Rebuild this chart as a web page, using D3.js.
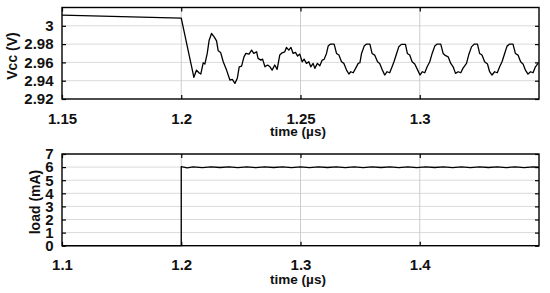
<!DOCTYPE html>
<html>
<head>
<meta charset="utf-8">
<script src="https://cdn.jsdelivr.net/npm/d3@7"></script>
<style>
  body { margin: 0; background: #fff; }
  text { font-family: "Liberation Sans", Arial, sans-serif; font-weight: bold; }
</style>
</head>
<body>
<div id="chart"></div>
<script>
// supply voltage trace (time in us, volts)
let vccTime = [
  1.15, 1.2, 1.2053, 1.2064, 1.2074, 1.2082, 1.2092, 1.2099, 1.2109, 1.2117, 1.2127, 1.2138,
  1.2148, 1.2155, 1.2165, 1.2176, 1.2190, 1.2204, 1.2214, 1.2225, 1.2235, 1.2243,
  1.2253, 1.2263, 1.2271, 1.2284, 1.2295, 1.2304, 1.2316, 1.2322, 1.2334, 1.2341, 1.2351, 1.2362, 1.2372,
  1.2381, 1.2392, 1.2402, 1.2413, 1.2423, 1.2434, 1.2441, 1.2451, 1.2460, 1.2469,
  1.2479, 1.2488, 1.2497, 1.2507, 1.2515, 1.2525, 1.2535, 1.2543, 1.2553, 1.2560,
  1.2571, 1.2581, 1.2591, 1.2599, 1.2609, 1.2616, 1.2626, 1.2641, 1.2651, 1.2661,
  1.2672, 1.2682, 1.2693, 1.2703, 1.2711, 1.2721, 1.2731, 1.2742,
  1.2749, 1.2756, 1.2767, 1.2777, 1.2791, 1.2800, 1.2811, 1.2823, 1.2832, 1.2842,
  1.2853, 1.2863, 1.2874, 1.2884, 1.2892, 1.2903, 1.2912, 1.2923, 1.2940, 1.2948,
  1.2958, 1.2968, 1.2979, 1.2990, 1.3001, 1.3011, 1.3021, 1.3031, 1.3042, 1.3052, 1.3063, 1.3073, 1.3088, 1.3098,
  1.3105, 1.3119, 1.3130, 1.3140, 1.3150, 1.3161, 1.3172, 1.3181, 1.3196, 1.3205,
  1.3217, 1.3228, 1.3242, 1.3251, 1.3261, 1.3272, 1.3284, 1.3293, 1.3303, 1.3314,
  1.3325, 1.3335, 1.3345, 1.3356, 1.3366, 1.3377, 1.3391, 1.3401, 1.3412, 1.3423,
  1.3433, 1.3443, 1.3454, 1.3465, 1.3475, 1.3485, 1.3496
];
let vccVolts = [
  3.0116, 3.0083, 2.9437, 2.9516, 2.9487, 2.9473, 2.9596, 2.9582, 2.9698, 2.9843, 2.9916, 2.9879,
  2.9836, 2.9727, 2.9709, 2.9607, 2.9516, 2.9407, 2.9415, 2.9371, 2.9426, 2.9552,
  2.9560, 2.9661, 2.9698, 2.9691, 2.9734, 2.9698, 2.9716, 2.9644, 2.9625, 2.9636, 2.9552, 2.9571, 2.9552,
  2.9516, 2.9571, 2.9524, 2.9680, 2.9705, 2.9716, 2.9764, 2.9734, 2.9764, 2.9698,
  2.9709, 2.9669, 2.9691, 2.9607, 2.9636, 2.9589, 2.9607, 2.9552, 2.9589, 2.9535,
  2.9589, 2.9563, 2.9625, 2.9633, 2.9698, 2.9778, 2.9800, 2.9800, 2.9698, 2.9680,
  2.9607, 2.9589, 2.9516, 2.9473, 2.9498, 2.9487, 2.9535, 2.9589,
  2.9596, 2.9698, 2.9778, 2.9800, 2.9800, 2.9698, 2.9680, 2.9607, 2.9589, 2.9524,
  2.9462, 2.9498, 2.9487, 2.9552, 2.9607, 2.9698, 2.9770, 2.9797, 2.9797, 2.9698,
  2.9680, 2.9607, 2.9582, 2.9524, 2.9462, 2.9498, 2.9487, 2.9552, 2.9607, 2.9698, 2.9778, 2.9800, 2.9800, 2.9698,
  2.9680, 2.9661, 2.9589, 2.9552, 2.9480, 2.9498, 2.9487, 2.9535, 2.9589, 2.9680,
  2.9770, 2.9800, 2.9800, 2.9698, 2.9680, 2.9607, 2.9582, 2.9498, 2.9462, 2.9498,
  2.9487, 2.9552, 2.9607, 2.9698, 2.9778, 2.9800, 2.9800, 2.9698, 2.9680, 2.9607,
  2.9582, 2.9516, 2.9473, 2.9498, 2.9487, 2.9552, 2.9589
];

// load current step, bottom panel (time in us, mA)
let loadTime = [
  1.1, 1.2, 1.2, 1.205, 1.21,
  1.2175, 1.225, 1.2325, 1.24, 1.2475, 1.255, 1.2625, 1.27, 1.2775, 1.285,
  1.2925, 1.3, 1.3075, 1.315, 1.3225, 1.33, 1.3375, 1.345, 1.3525, 1.36,
  1.3675, 1.375, 1.3825, 1.39, 1.3975, 1.405, 1.4125, 1.42, 1.4275, 1.435,
  1.4425, 1.45, 1.4575, 1.465, 1.4725, 1.48, 1.4875, 1.495, 1.5
];
let loadMA = [
  0, 0, 6.03, 5.94, 6.01,
  5.96, 6.02, 5.97, 6.02, 5.96, 6.01, 5.96, 6.02, 5.97, 6.02,
  5.96, 6.02, 5.96, 6.01, 5.97, 6.02, 5.96, 6.02, 5.96, 6.01,
  5.97, 6.02, 5.96, 6.02, 5.96, 6.01, 5.97, 6.02, 5.96, 6.02,
  5.96, 6.01, 5.97, 6.02, 5.96, 6.02, 5.96, 6.01, 5.99
];

// tick labels of both panels
let vccTicksX = [1.15, 1.2, 1.25, 1.3];
let vccTicksY = [2.92, 2.94, 2.96, 2.98, 3];
let loadTicksX = [1.1, 1.2, 1.3, 1.4];
let loadTicksY = [0, 1, 2, 3, 4, 5, 6, 7];

let width = 550;
let height = 293;
let left = 62, right = 539; // both panels share the same horizontal extent

let svg = d3.select('#chart')
  .append('svg')
  .attr('width', width)
  .attr('height', height)
  .style('background-color', '#fff');

function panel(opt) {
  let x = d3.scaleLinear().domain(opt.xDomain).range([left, right]);
  let y = d3.scaleLinear().domain(opt.yDomain).range([opt.bottom, opt.top]);
  let g = svg.append('g');

  // grid lines
  g.selectAll('.hgrid')
    .data(opt.yTicks.filter(d => d != opt.yDomain[0]))
    .enter()
    .append('line')
    .attr('x1', left).attr('x2', right)
    .attr('y1', d => y(d)).attr('y2', d => y(d))
    .attr('stroke', '#dadada')
    .attr('stroke-width', 1);
  g.selectAll('.vgrid')
    .data(opt.xTicks.filter(d => d != opt.xDomain[0]))
    .enter()
    .append('line')
    .attr('x1', d => x(d)).attr('x2', d => x(d))
    .attr('y1', opt.top).attr('y2', opt.bottom)
    .attr('stroke', '#cccccc')
    .attr('stroke-width', 1);

  // the trace itself
  let line = d3.line()
    .x(d => x(d[0]))
    .y(d => y(d[1]));
  g.append('path')
    .datum(d3.zip(opt.xs, opt.ys))
    .attr('d', line)
    .attr('fill', 'none')
    .attr('stroke', '#000')
    .attr('stroke-width', 1.3)
    .attr('stroke-linejoin', 'round');

  // axes, ticks pointing inward like matlab
  let ax = g.append('g')
    .attr('transform', `translate(0,${opt.bottom})`)
    .call(d3.axisBottom(x).tickValues(opt.xTicks).tickSize(-4).tickPadding(14).tickFormat(d3.format('')));
  let ay = g.append('g')
    .attr('transform', `translate(${left},0)`)
    .call(d3.axisLeft(y).tickValues(opt.yTicks).tickSize(-4).tickPadding(8.5).tickFormat(d3.format('')));
  g.append('g')
    .attr('transform', `translate(0,${opt.top})`)
    .call(d3.axisTop(x).tickValues(opt.xTicks).tickSize(-4).tickFormat(''));
  g.append('g')
    .attr('transform', `translate(${right},0)`)
    .call(d3.axisRight(y).tickValues(opt.yTicks).tickSize(-4).tickFormat(''));

  g.selectAll('.domain').remove();
  g.selectAll('.tick line').attr('stroke', '#000').attr('stroke-width', 1.2);
  [ax, ay].forEach(a => a.selectAll('text')
    .attr('fill', '#111')
    .style('font-size', '15px')
    .style('font-family', '"Liberation Sans", Arial, sans-serif')
    .style('font-weight', 'bold'));

  // frame
  g.append('rect')
    .attr('x', left).attr('y', opt.top)
    .attr('width', right - left).attr('height', opt.bottom - opt.top)
    .attr('fill', 'none')
    .attr('stroke', '#000')
    .attr('stroke-width', 1.4);

  // labels
  g.append('text')
    .attr('x', 298)
    .attr('y', opt.xLabelY)
    .attr('text-anchor', 'middle')
    .style('font-size', '13.5px')
    .attr('fill', '#111')
    .text('time (\u00b5s)');
  g.append('text')
    .attr('transform', `translate(${opt.yLabelX},${opt.yLabelMid}) rotate(-90)`)
    .attr('text-anchor', 'middle')
    .style('font-size', '14px')
    .attr('fill', '#111')
    .text(opt.yLabel);
}

panel({
  top: 7.5, bottom: 99,
  xDomain: [1.15, 1.35], yDomain: [2.92, 3.02],
  xTicks: vccTicksX, yTicks: vccTicksY,
  xs: vccTime, ys: vccVolts,
  xLabelY: 135.5, yLabel: 'Vcc (V)', yLabelX: 17, yLabelMid: 56
});

panel({
  top: 154, bottom: 245.7,
  xDomain: [1.1, 1.5], yDomain: [0, 7],
  xTicks: loadTicksX, yTicks: loadTicksY,
  xs: loadTime, ys: loadMA,
  xLabelY: 284, yLabel: 'load (mA)', yLabelX: 39.5, yLabelMid: 202
});
</script>
</body>
</html>
